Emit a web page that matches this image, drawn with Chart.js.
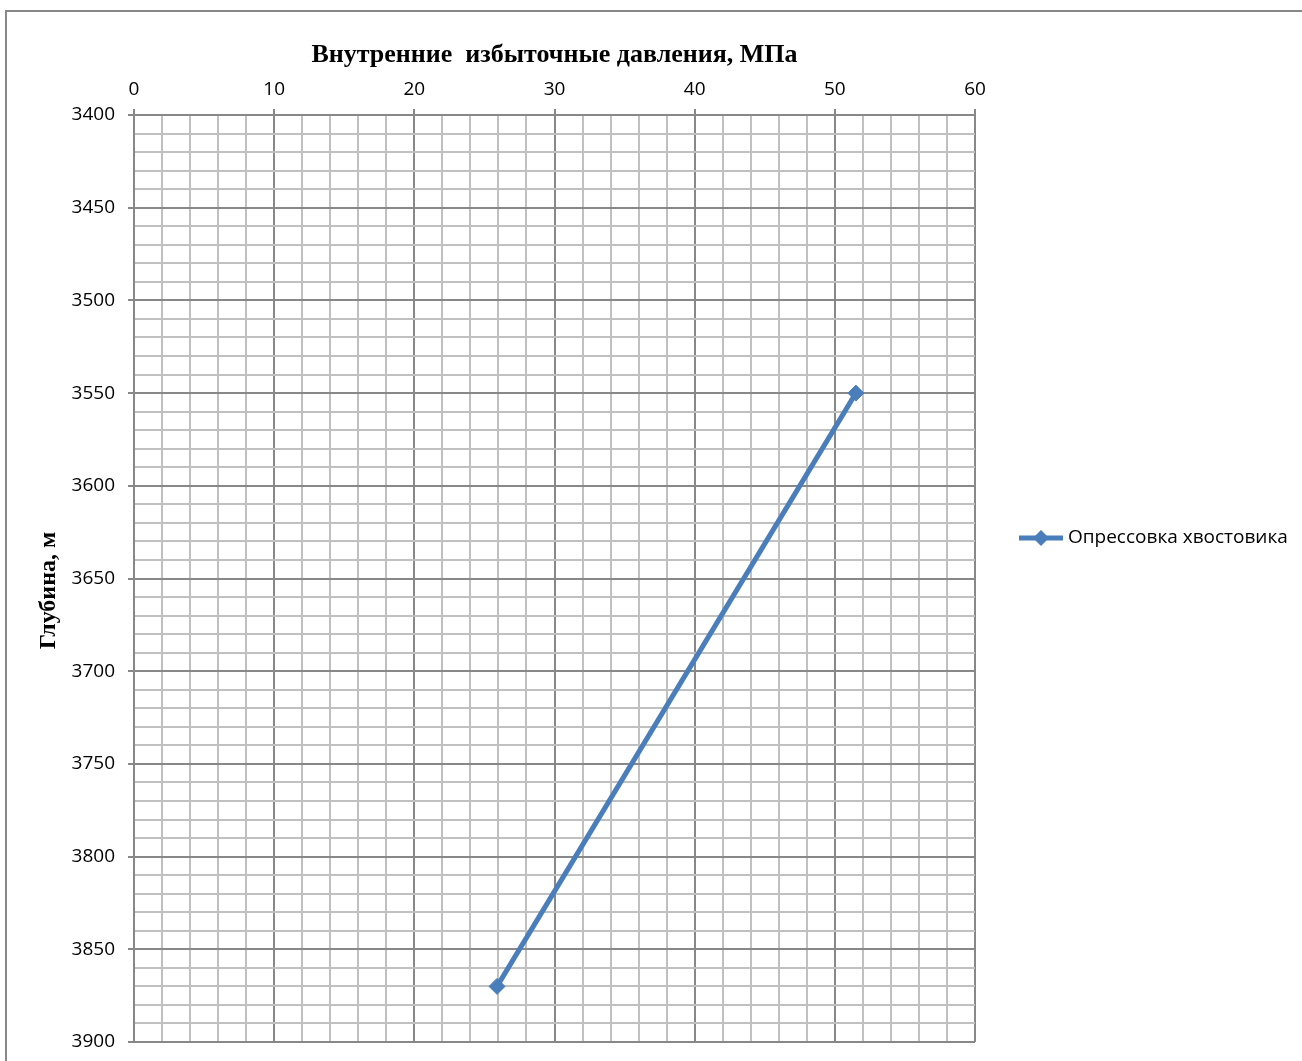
<!DOCTYPE html>
<html>
<head>
<meta charset="utf-8">
<script src="https://cdn.jsdelivr.net/npm/chart.js@4"></script>
<style>
  html, body { margin: 0; padding: 0; background: #fff; overflow: hidden; }
  #frame { position: absolute; left: 5px; top: 10px; width: 1400px; height: 1200px; border: 2px solid #888; }
  #wrap { position: absolute; left: 0; top: 0; width: 1302px; height: 1061px; }
</style>
</head>
<body>
<div id="frame"></div>
<div id="wrap"><canvas id="chart" width="1302" height="1061"></canvas></div>
<script>
// --- Data ---
const seriesName = 'Опрессовка хвостовика';
const pressures = [51.5, 25.9];   // МПа
const depths = [3550, 3870];      // м
const xTitle = 'Внутренние  избыточные давления, МПа';
const yTitle = 'Глубина, м    ';  // trailing spaces nudge the rotated title down like Excel does

// --- Styles ---
const lineColor = '#4a7ebb';
const majorGrid = '#888888';
const minorGrid = '#c0c0c0';
const tickFont = { family: 'Open Sans', size: 19 };
const xTitleFont = { family: 'Liberation Serif', size: 26, weight: 'bold' };
const yTitleFont = { family: 'Liberation Serif', size: 24, weight: 'bold' };

// legend drawn like Excel: line with diamond, then the text
const sideLegend = {
    id: 'sideLegend',
    afterDraw(chart) {
        const ctx = chart.ctx;
        const ds = chart.data.datasets[0];
        const y = 538, x0 = 1019, x1 = 1063, cx = (x0 + x1) / 2, r = 8;
        ctx.save();
        ctx.strokeStyle = ds.borderColor;
        ctx.lineWidth = 5;
        ctx.beginPath();
        ctx.moveTo(x0, y);
        ctx.lineTo(x1, y);
        ctx.stroke();
        ctx.fillStyle = ds.borderColor;
        ctx.beginPath();
        ctx.moveTo(cx, y - r);
        ctx.lineTo(cx + r, y);
        ctx.lineTo(cx, y + r);
        ctx.lineTo(cx - r, y);
        ctx.closePath();
        ctx.fill();
        ctx.fillStyle = '#000';
        ctx.font = '19px "Open Sans"';
        ctx.textBaseline = 'middle';
        ctx.fillText(ds.label, 1068, y);
        ctx.restore();
    }
};

new Chart(document.getElementById('chart'), {
    type: 'scatter',
    data: {
        datasets: [{
            label: seriesName,
            data: pressures.map((p, i) => ({ x: p, y: depths[i] })),
            showLine: true,
            borderColor: lineColor,
            backgroundColor: lineColor,
            borderWidth: 5,
            pointStyle: 'rectRot',
            pointRadius: 8,
            pointBorderWidth: 1,
            tension: 0
        }]
    },
    options: {
        responsive: false,
        animation: false,
        layout: { padding: { left: 0, top: 0, right: 327, bottom: 19 } },
        plugins: { legend: { display: false }, tooltip: { enabled: false } },
        scales: {
            x: {
                type: 'linear',
                position: 'top',
                min: 0,
                max: 60,
                afterFit: (s) => { s.height = 115; },
                ticks: {
                    stepSize: 2,
                    autoSkip: false,
                    maxRotation: 0,
                    padding: 8,
                    color: '#000',
                    font: tickFont,
                    callback: (v) => v % 10 === 0 ? v : ''
                },
                grid: {
                    color: (c) => c.tick && c.tick.value % 10 === 0 ? majorGrid : minorGrid,
                    tickColor: (c) => c.tick && c.tick.value % 10 === 0 ? majorGrid : 'transparent',
                    lineWidth: 2,
                    tickLength: 6
                },
                border: { display: true, color: majorGrid, width: 2 },
                title: { display: true, text: xTitle, color: '#000', font: xTitleFont, padding: { top: 40, bottom: 0 } }
            },
            y: {
                type: 'linear',
                reverse: true,
                min: 3400,
                max: 3900,
                afterFit: (s) => { s.width = 134; s.paddingTop = 0; s.paddingBottom = 0; },
                ticks: {
                    stepSize: 10,
                    autoSkip: false,
                    padding: 13,
                    color: '#000',
                    font: tickFont,
                    callback: (v) => v % 50 === 0 ? v : ''
                },
                grid: {
                    color: (c) => c.tick && c.tick.value % 50 === 0 ? majorGrid : minorGrid,
                    tickColor: (c) => c.tick && c.tick.value % 50 === 0 ? majorGrid : 'transparent',
                    lineWidth: 2,
                    tickLength: 6
                },
                border: { display: true, color: majorGrid, width: 2 },
                title: { display: true, text: yTitle, color: '#000', font: yTitleFont, padding: { top: 34, bottom: 0 } }
            }
        }
    },
    plugins: [sideLegend]
});
</script>
</body>
</html>
